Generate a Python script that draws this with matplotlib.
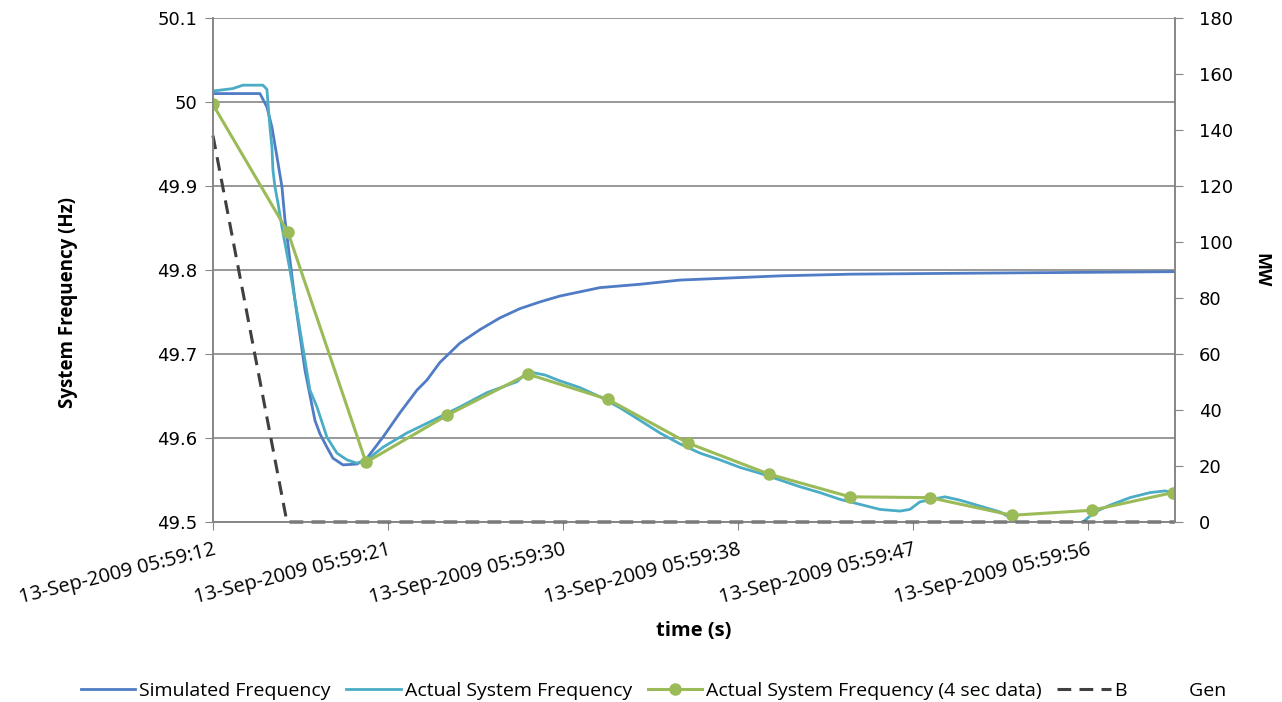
import matplotlib.pyplot as plt
import numpy as np

# time in seconds after 13-Sep-2009 05:59:12
sim_t = [0, 2.35, 2.7, 2.95, 3.2, 3.45, 3.6, 4.1, 4.6, 5.1, 5.35, 5.7, 6.0, 6.5, 7.2, 7.7,
         8.5, 9.35, 10.2, 10.7, 11.35, 12.35, 13.35, 14.35, 15.35, 16.35, 17.35, 18.35,
         19.35, 21.35, 23.35, 25.35, 28.35, 31.85, 36.85, 48.1]
sim_f = [50.01, 50.01, 49.994, 49.97, 49.935, 49.899, 49.86, 49.764, 49.681, 49.621, 49.605,
         49.589, 49.576, 49.568, 49.569, 49.576, 49.601, 49.630, 49.657, 49.669, 49.690,
         49.713, 49.729, 49.743, 49.754, 49.762, 49.769, 49.774, 49.779, 49.783, 49.788,
         49.790, 49.793, 49.795, 49.796, 49.798]

act_t = [0, 1.0, 1.5, 2.5, 2.7, 2.75, 2.85, 2.95, 3.0, 3.1, 3.25, 3.45, 3.85, 4.35, 4.85,
         5.2, 5.7, 6.2, 6.7, 7.2, 7.7, 8.5, 9.7, 11.0, 12.35, 13.7, 15.2, 15.75, 16.6, 17.35,
         18.35, 19.35, 20.35, 21.35, 22.35, 23.35, 24.35, 25.35, 26.35, 27.35, 28.35, 29.35,
         30.35, 31.35, 32.35, 33.35, 34.35, 34.85, 35.35, 36.6, 37.35, 38.35, 39.35, 39.95,
         40.35, 40.85, 43.1, 43.6, 44.1, 44.85, 45.85, 46.85, 47.6, 48.0]
act_f = [50.013, 50.016, 50.020, 50.020, 50.015, 49.999, 49.97, 49.946, 49.919, 49.899,
         49.88, 49.851, 49.80, 49.729, 49.657, 49.637, 49.601, 49.582, 49.574, 49.570,
         49.574, 49.589, 49.606, 49.621, 49.637, 49.654, 49.667, 49.679, 49.675, 49.668,
         49.660, 49.649, 49.636, 49.621, 49.606, 49.593, 49.582, 49.574, 49.565, 49.558,
         49.550, 49.542, 49.535, 49.527, 49.521, 49.515, 49.513, 49.515, 49.524, 49.530,
         49.526, 49.519, 49.512, 49.504, 49.495, 49.49, 49.49, 49.502, 49.512, 49.520,
         49.529, 49.535, 49.537, 49.535]

sec4_t = [0, 3.75, 7.65, 11.7, 15.75, 19.75, 23.75, 27.8, 31.85, 35.85, 39.95, 43.95, 48.0]
sec4_f = [49.997, 49.845, 49.571, 49.627, 49.676, 49.646, 49.594, 49.557, 49.530, 49.529,
          49.508, 49.514, 49.535]

gen_t = [0, 3.7, 48.1]
gen_mw = [138, 0, 0]

tick_pos = [0, 8.75, 17.5, 26.25, 35, 43.75]
tick_lab = ['13-Sep-2009 05:59:12', '13-Sep-2009 05:59:21', '13-Sep-2009 05:59:30',
            '13-Sep-2009 05:59:38', '13-Sep-2009 05:59:47', '13-Sep-2009 05:59:56']

grey = '#868686'
txt = 'Open Sans'

fig = plt.figure(figsize=(12.82, 7.02), dpi=100)
ax = fig.add_axes([0.1661, 0.2564, 0.7504, 0.718])
ax2 = ax.twinx()

l1, = ax.plot(sim_t, sim_f, color='#4F7CC4', lw=2.0, zorder=3)
l2, = ax.plot(act_t, act_f, color='#4BACC6', lw=2.0, zorder=4)
l3, = ax.plot(sec4_t, sec4_f, color='#9BBB59', lw=2.2, marker='o', ms=8, zorder=5)
l4, = ax2.plot(gen_t, gen_mw, color='#404040', lw=2.2, ls=(0, (4.5, 2.7)), clip_on=False)

ax.set_xlim(0, 48.1)
ax.set_ylim(49.5, 50.1)
ax2.set_ylim(0, 180)
ax.set_yticks(np.arange(49.5, 50.11, 0.1))
ax.set_yticklabels(['49.5', '49.6', '49.7', '49.8', '49.9', '50', '50.1'])
ax2.set_yticks(range(0, 181, 20))
ax.grid(axis='y', color=grey, lw=1.2)
ax.set_axisbelow(True)

ax.set_xticks(tick_pos)
ax.set_xticklabels(tick_lab, rotation=14, ha='right', rotation_mode='anchor', family=txt, fontsize=14.5)
ax.tick_params(axis='x', length=6, color=grey, pad=7)
ax.tick_params(axis='y', length=6, color=grey, labelsize=13, pad=5)
ax2.tick_params(axis='y', length=6, color=grey, labelsize=13, pad=11)

for a in (ax, ax2):
    a.spines['top'].set_visible(False)
    for s in ('left', 'right', 'bottom'):
        a.spines[s].set_color(grey)
        a.spines[s].set_linewidth(1.2)

ax.set_xlabel('time (s)', family=txt, fontweight='bold', fontsize=14.5)
ax.xaxis.set_label_coords(0.5, -0.197)
ax.set_ylabel('System Frequency (Hz)', family=txt, fontweight='bold', fontsize=13.5)
ax.yaxis.set_label_coords(-0.14, 0.435)
ax2.set_ylabel('MW', family=txt, fontweight='bold', fontsize=13, rotation=270, va='center')
ax2.yaxis.set_label_coords(1.0895, 0.5)

fig.legend([l1, l2, l3, l4],
           ['Simulated Frequency', 'Actual System Frequency', 'Actual System Frequency (4 sec data)',
            'B            Gen'],
           loc='center', bbox_to_anchor=(0.51, 0.016), ncol=4, frameon=False,
           prop={'family': txt, 'size': 14}, handlelength=2.8, columnspacing=0.8, handletextpad=0.2)

plt.savefig('out.png', dpi=100)
